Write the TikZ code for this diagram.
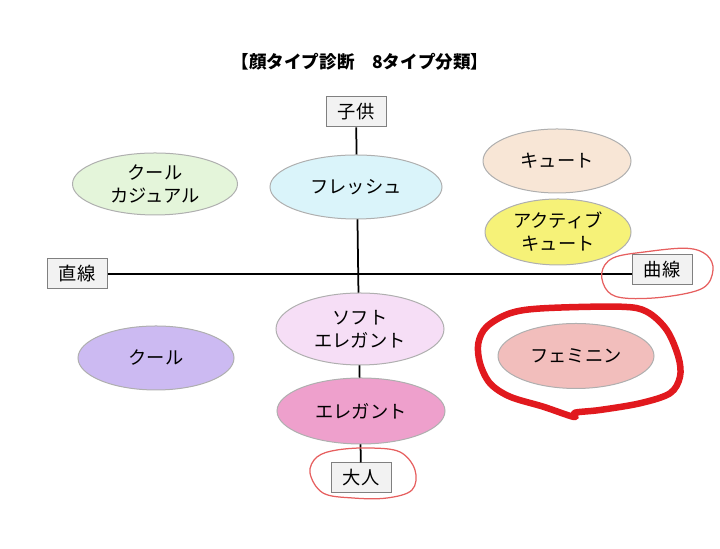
\documentclass[tikz,border=0pt]{standalone}
\usepackage{fontspec}
\setmainfont{Noto Sans CJK JP}
\usetikzlibrary{shapes.geometric}

\begin{document}
\begin{tikzpicture}[
  typeoval/.style={ellipse, draw=r175g175b175, line width=0.02cm, inner sep=0pt, align=center},
  axisbox/.style={rectangle, draw=r128g128b128, fill=r242g242b242, line width=0.02cm, minimum width=1.200000cm, minimum height=0.600000cm, inner sep=0pt},
  axisline/.style={line width=0.035cm},
  penloop/.style={line width=0.025cm, draw=r230g95b95},
  markerloop/.style={line width=0.130000cm, draw=r225g25b30, line join=round}
]
\useasboundingbox (0,0) rectangle (14.400000,10.980000);
{\fontsize{10.4}{13}\selectfont

% Changing colors
\definecolor{r175g175b175}{RGB}{175,175,175}%
\definecolor{r128g128b128}{RGB}{128,128,128}%
\definecolor{r242g242b242}{RGB}{242,242,242}%
\definecolor{r230g95b95}{RGB}{230,95,95}%
\definecolor{r225g25b30}{RGB}{225,25,30}%
\definecolor{r228g245b218}{RGB}{228,245,218}%
\definecolor{r218g244b250}{RGB}{218,244,250}%
\definecolor{r248g230b214}{RGB}{248,230,214}%
\definecolor{r246g242b120}{RGB}{246,242,120}%
\definecolor{r246g222b246}{RGB}{246,222,246}%
\definecolor{r204g186b242}{RGB}{204,186,242}%
\definecolor{r238g160b204}{RGB}{238,160,204}%
\definecolor{r242g190b188}{RGB}{242,190,188}%

% Drawing title
\node (title) at (7.200000,9.740000) {\fontsize{10}{12}\selectfont\bfseries 【顔タイプ診断　8タイプ分類】};%

% Drawing axis labels
\node [axisbox] (kodomo) at (7.120000,8.740000) {子供};%
\node [axisbox] (otona) at (7.220000,1.420000) {大人};%
\node [axisbox] (chokusen) at (1.540000,5.500000) {直線};%
\node [axisbox] (kyokusen) at (13.240000,5.580000) {曲線};%

% Drawing axes
\draw [axisline] (kodomo) -- (otona);%
\draw [axisline] (chokusen.east) -- (chokusen.east -| kyokusen.west);%

% Drawing face types
\node [typeoval, fill=r228g245b218, minimum width=3.300000cm, minimum height=1.240000cm] (coolcasual) at (3.100000,7.300000) {クール\\カジュアル};%
\node [typeoval, fill=r218g244b250, minimum width=3.440000cm, minimum height=1.280000cm] (fresh) at (7.120000,7.240000) {フレッシュ};%
\node [typeoval, fill=r248g230b214, minimum width=2.960000cm, minimum height=1.280000cm] (cute) at (11.140000,7.760000) {キュート};%
\node [typeoval, fill=r246g242b120, minimum width=2.920000cm, minimum height=1.320000cm] (activecute) at (11.160000,6.340000) {アクティブ\\キュート};%
\node [typeoval, fill=r246g222b246, minimum width=3.360000cm, minimum height=1.440000cm] (softelegant) at (7.200000,4.400000) {ソフト\\エレガント};%
\node [typeoval, fill=r204g186b242, minimum width=3.120000cm, minimum height=1.280000cm] (cool) at (3.120000,3.820000) {クール};%
\node [typeoval, fill=r238g160b204, minimum width=3.360000cm, minimum height=1.320000cm] (elegant) at (7.220000,2.760000) {エレガント};%
\node [typeoval, fill=r242g190b188, minimum width=3.120000cm, minimum height=1.300000cm] (feminine) at (11.520000,3.860000) {フェミニン};%

% Drawing pen marks
\draw [penloop] plot [smooth cycle, tension=0.6] coordinates {(12.034000,5.514000) (12.260000,5.820000) (12.934000,5.946000) (13.734000,6.014000) (14.134000,5.880000) (14.260000,5.580000) (14.060000,5.220000) (13.334000,5.046000) (12.534000,5.014000) (12.160000,5.146000)};%
\draw [penloop] plot [smooth cycle, tension=0.6] coordinates {(6.740000,1.980000) (7.400000,2.020000) (8.000000,1.940000) (8.300000,1.580000) (8.240000,1.180000) (7.740000,1.020000) (7.060000,1.020000) (6.460000,1.120000) (6.200000,1.520000) (6.340000,1.840000)};%
\draw [markerloop] plot [smooth cycle, tension=0.55] coordinates {(9.734000,4.446000) (10.200000,4.714000) (10.866000,4.814000) (12.400000,4.846000) (12.934000,4.746000) (13.334000,4.380000) (13.566000,3.846000) (13.600000,3.446000) (13.400000,3.114000) (12.800000,2.914000) (12.000000,2.780000) (11.500000,2.726000) (11.480000,2.640000) (10.866000,2.846000) (10.200000,3.046000) (9.800000,3.314000) (9.600000,3.714000) (9.566000,4.114000)};%
}
\end{tikzpicture}
\end{document}
